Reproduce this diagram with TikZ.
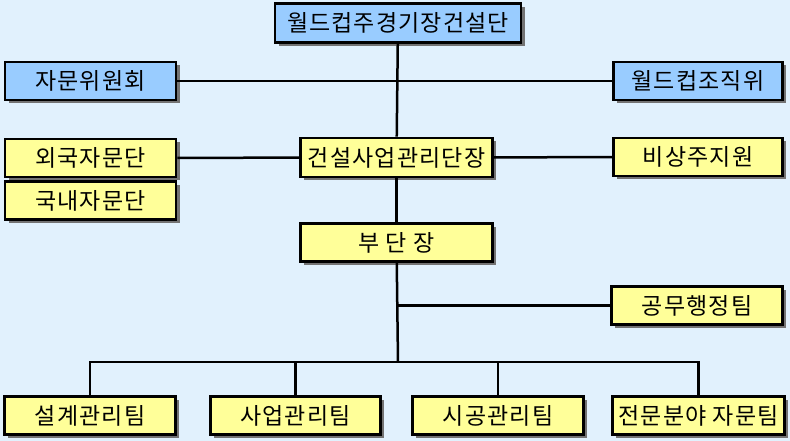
\documentclass[tikz,border=0pt]{standalone}
\usepackage{fontspec}
\newfontfamily\krfont[LetterSpace=5]{Noto Sans CJK KR}
\usetikzlibrary{shadows}
\definecolor{bgblue}{HTML}{E1F1FD}
\definecolor{boxblue}{HTML}{99CCFF}
\definecolor{boxyellow}{HTML}{FFFF99}
\tikzset{
	orgbox/.style={rectangle, draw, line width=2.8pt, inner sep=0pt, font=\krfont\fontsize{23}{26}\selectfont,
		drop shadow={shadow xshift=3.5pt, shadow yshift=-3.5pt, fill=black!55, opacity=1}},
	bluebox/.style={orgbox, fill=boxblue},
	yellowbox/.style={orgbox, fill=boxyellow},
	link/.style={line width=2.5pt}
}
\begin{document}
\begin{tikzpicture}[x=1pt,y=-1pt]
		\fill[bgblue] (0,0) rectangle (790,441);
		\useasboundingbox (0,0) rectangle (790,441);
		% top level
		\node[bluebox, minimum width=246pt, minimum height=39pt] (chief) at (398,23) {월드컵주경기장건설단};
		\node[bluebox, minimum width=171pt, minimum height=38pt] (advisory) at (90.5,81) {자문위원회};
		\node[bluebox, minimum width=169pt, minimum height=38pt] (fifa) at (698,81) {월드컵조직위};
		% director row
		\node[yellowbox, minimum width=171pt, minimum height=38pt] (foreign) at (90.5,158) {외국자문단};
		\node[yellowbox, minimum width=171pt, minimum height=38pt] (domestic) at (90.5,200.5) {국내자문단};
		\node[yellowbox, minimum width=192pt, minimum height=39pt] (director) at (396.5,157.5) {건설사업관리단장};
		\node[yellowbox, minimum width=169pt, minimum height=38pt] (nonres) at (698,157) {비상주지원};
		\node[yellowbox, minimum width=192pt, minimum height=38pt] (deputy) at (396.5,242.5) {부 단 장};
		\node[yellowbox, minimum width=171pt, minimum height=38pt] (admin) at (697,305.5) {공무행정팀};
		% teams
		\node[yellowbox, minimum width=171pt, minimum height=38pt] (design) at (90,415.5) {설계관리팀};
		\node[yellowbox, minimum width=170pt, minimum height=38pt] (business) at (295.5,415.5) {사업관리팀};
		\node[yellowbox, minimum width=171pt, minimum height=38pt] (construct) at (498,415.5) {시공관리팀};
		\node[yellowbox, minimum width=172pt, minimum height=38pt] (expert) at (698.5,415.5) {전문분야 자문팀};

		\coordinate (bus) at (398,362);
		\draw[link] (chief) -- (director);
		\draw[link] (advisory) -- (fifa);
		\draw[link] (foreign) -- (director);
		\draw[link] (director) -- (nonres);
		\draw[link] (director) -- (deputy);
		\draw[link] (deputy) -- (bus);
		\draw[link] (admin.west) -- (admin.west -| bus);
		\draw[link] (design.north) |- (bus) -| (expert.north);
		\draw[link] (business.north) -- (business.north |- bus);
		\draw[link] (construct.north) -- (construct.north |- bus);
\end{tikzpicture}
\end{document}
